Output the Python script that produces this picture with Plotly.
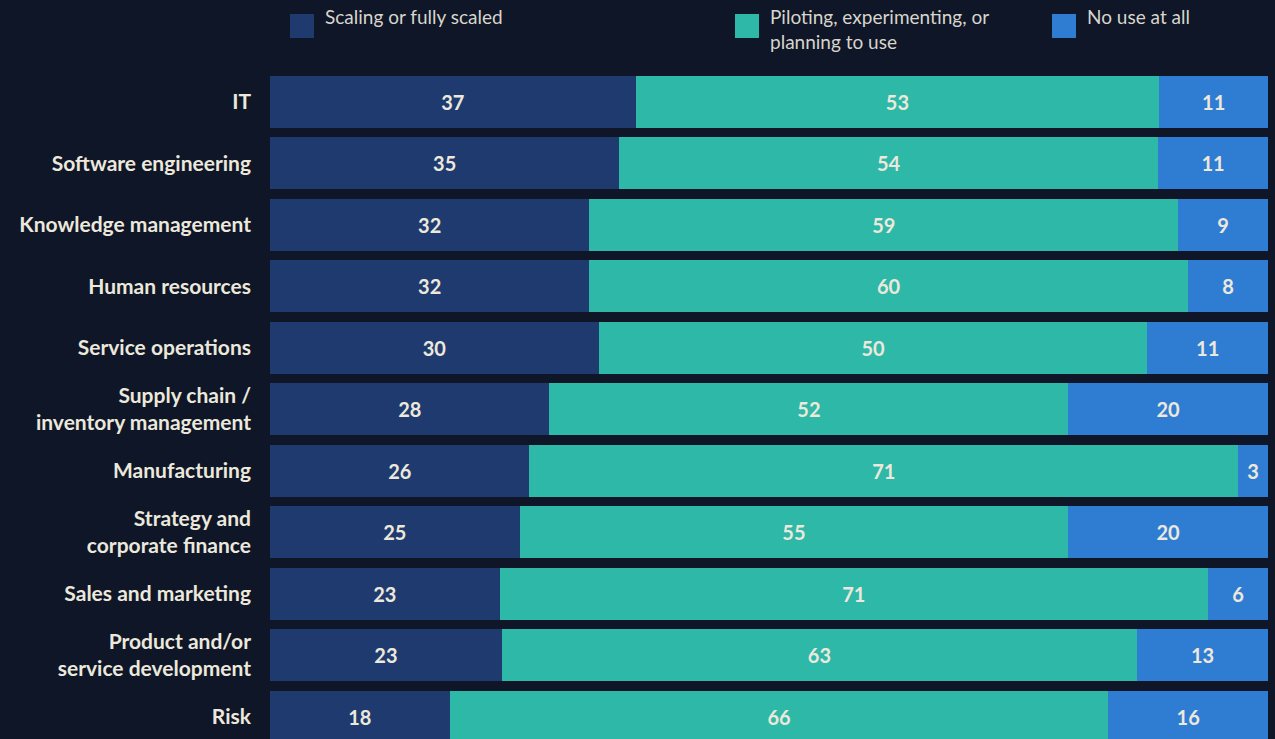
import plotly.graph_objects as go

categories = ["IT", "Software engineering", "Knowledge management", "Human resources",
              "Service operations", "Supply chain /<br>inventory management", "Manufacturing",
              "Strategy and<br>corporate finance", "Sales and marketing",
              "Product and/or<br>service development", "Risk"]
scaling = [37, 35, 32, 32, 30, 28, 26, 25, 23, 23, 18]
piloting = [53, 54, 59, 60, 50, 52, 71, 55, 71, 63, 66]
no_use = [11, 11, 9, 8, 11, 20, 3, 20, 6, 13, 16]
series_names = ["Scaling or fully scaled", "Piloting, experimenting, or<br>planning to use", "No use at all"]
colors = ["#1f3a6e", "#2db8a7", "#2f7dd3"]

BG = "#0e1628"
TXT = "#ece8dc"
FONT = "Lato"

fig = go.Figure()
for name, vals, col in zip(series_names, [scaling, piloting, no_use], colors):
    fig.add_trace(go.Bar(
        y=categories, x=vals, name=name, orientation="h",
        marker=dict(color=col, line=dict(width=0)),
        text=vals, texttemplate="%{text}", textposition="inside",
        insidetextanchor="middle", textangle=0,
        textfont=dict(family=FONT, size=20, color=TXT, weight="bold"),
        hoverinfo="skip", showlegend=False,
    ))

# manual legend (positions in pixels converted to paper coords)
W, L, R, T, B = 1275, 270, 7, 71, 0
pw = W - L - R
ph = 739 - T - B
def px(x):
    return (x - L) / pw
def py(y):
    return (739 - B - y) / ph

legend_items = [(290, 323), (735, 768), (1052, 1085)]
for (sx, tx), name, col in zip(legend_items, series_names, colors):
    fig.add_shape(type="rect", xref="paper", yref="paper",
                  x0=px(sx), x1=px(sx + 24), y0=py(38), y1=py(14),
                  fillcolor=col, line=dict(width=0))
    fig.add_annotation(xref="paper", yref="paper", x=px(tx), y=py(3),
                       xanchor="left", yanchor="top", align="left",
                       text=name, showarrow=False,
                       font=dict(family=FONT, size=19, color="#d8d5cb"))

fig.update_layout(
    width=1275, height=739,
    paper_bgcolor=BG, plot_bgcolor=BG,
    barmode="stack", barnorm="percent", bargap=0.155,
    margin=dict(l=L, r=R, t=T, b=B, pad=0),
    uniformtext=dict(minsize=20, mode="show"),
    xaxis=dict(range=[0, 100], visible=False, fixedrange=True),
    yaxis=dict(range=[10.358, -0.5], showgrid=False, zeroline=False, showline=False,
               ticks="", ticklabelstandoff=18, fixedrange=True,
               tickfont=dict(family=FONT, size=21, color=TXT, weight="bold")),
)

fig.write_html("out.html", config={"displayModeBar": False},
               post_script="document.body.style.margin='0';document.body.style.background='#0e1628';")
